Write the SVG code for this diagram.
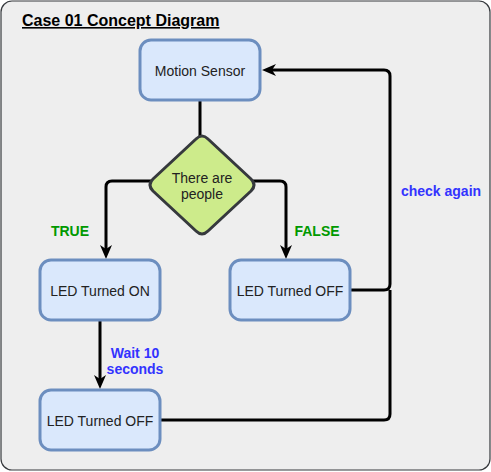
<svg xmlns="http://www.w3.org/2000/svg" width="491" height="472" viewBox="0 0 491 472">
<style>
.node{fill:#dae8fc;stroke:#6c8ebf;stroke-width:3}
.ntext{font-family:"Liberation Sans",Arial,sans-serif;font-size:14px;fill:#222;text-anchor:middle}
.conn{fill:none;stroke:#000;stroke-width:3}
.lbl{font-family:"Liberation Sans",Arial,sans-serif;font-size:14px;font-weight:bold;text-anchor:middle}
.green{fill:#009900}
.blue{fill:#3333ff}
</style>
<defs>
<marker id="arr" markerUnits="userSpaceOnUse" viewBox="0 0 14 12" refX="8" refY="6" markerWidth="14" markerHeight="12" orient="auto">
<path d="M0,0 L14,6 L0,12 L4,6 Z" fill="#000"/>
</marker>
</defs>
<rect x="1" y="1" width="489" height="469" rx="11" fill="#eeeeee" stroke="#36393d" stroke-width="1.2"/>
<text x="22" y="26" font-family="'Liberation Sans',Arial,sans-serif" font-size="16" font-weight="bold" text-decoration="underline" fill="#000">Case 01 Concept Diagram</text>
<g id="connectors">
<path class="conn" d="M200,100 V140"/>
<path class="conn" d="M155,181 H112 Q106,181 106,187 V253" marker-end="url(#arr)"/>
<path class="conn" d="M250,181 H280 Q286,181 286,187 V253" marker-end="url(#arr)"/>
<path class="conn" d="M100,320 V383" marker-end="url(#arr)"/>
<path class="conn" d="M345,290 H384 Q390,290 390,284 V76 Q390,70 384,70 H268" marker-end="url(#arr)"/>
<path class="conn" d="M155,420 H384 Q390,420 390,414 V290"/>
</g>
<g id="motion-sensor">
<rect class="node" x="140" y="40" width="120" height="60" rx="11"/>
<text class="ntext" x="200" y="76">Motion Sensor</text>
</g>
<g id="decision">
<path d="M196,139 Q202,133 208,139 L251,179 Q257,185 251,191 L208,231 Q202,237 196,231 L153,191 Q147,185 153,179 Z" fill="#cdeb8b" stroke="#36393d" stroke-width="3" stroke-linejoin="round"/>
<text class="ntext" x="202" y="183">There are</text>
<text class="ntext" x="202" y="199">people</text>
</g>
<g id="led-on">
<rect class="node" x="40" y="260" width="120" height="60" rx="11"/>
<text class="ntext" x="100" y="296">LED Turned ON</text>
</g>
<g id="led-off-right">
<rect class="node" x="230" y="260" width="120" height="60" rx="11"/>
<text class="ntext" x="290" y="296">LED Turned OFF</text>
</g>
<g id="led-off-bottom">
<rect class="node" x="40" y="390" width="120" height="60" rx="11"/>
<text class="ntext" x="100" y="426">LED Turned OFF</text>
</g>
<g id="labels">
<text class="lbl green" x="70" y="236">TRUE</text>
<text class="lbl green" x="317" y="236">FALSE</text>
<text class="lbl blue" x="135" y="358">Wait 10</text>
<text class="lbl blue" x="135" y="374">seconds</text>
<text class="lbl blue" x="441" y="196">check again</text>
</g>
</svg>
